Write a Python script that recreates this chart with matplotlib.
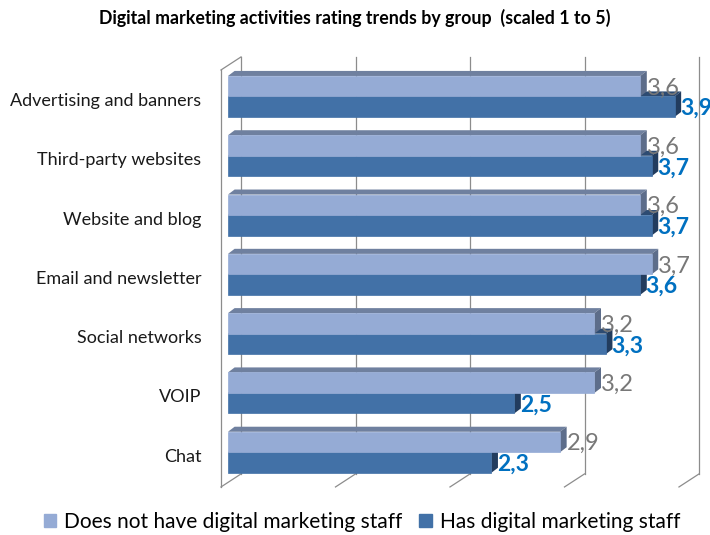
"""
Digital marketing activities rating trends by group, drawn as a pseudo-3D bar chart.
"""

import matplotlib
matplotlib.use('Agg')
import matplotlib.pyplot as plt
from matplotlib.patches import Patch

categories = ["Advertising and banners", "Third-party websites", "Website and blog",
              "Email and newsletter", "Social networks", "VOIP", "Chat"]
no_staff = [3.6, 3.6, 3.6, 3.7, 3.2, 3.2, 2.9]
has_staff = [3.9, 3.7, 3.7, 3.6, 3.3, 2.5, 2.3]
series_names = ["Does not have digital marketing staff", "Has digital marketing staff"]
grid_values = [0, 1, 2, 3, 4]

plt.rcParams['font.family'] = ['Lato', 'DejaVu Sans']

# colours: front, top, side
light = ('#95abd5', '#6f809f', '#5d6d8a')
dark = ('#4271a7', '#2d4b72', '#223c5e')

fig = plt.figure(figsize=(7.1, 5.35), dpi=100)
ax = fig.add_axes([0, 0, 1, 1])
# axes span the whole figure; x in rating units, y in category slots
ax.set_xlim(-1.93, 4.271)
ax.set_ylim(7.395, -1.627)
ax.axis('off')

x0 = 0.061           # front left edge of bars
bar_h = 0.346        # height of one bar
dx, dy = 0.058, -0.085   # bar depth
wx, wy = 0.175, -0.22    # wall / floor depth
top, floor = -0.447, 6.585
grid_col = '#8c8c8c'

# left wall outline
ax.plot([0, 0], [top, floor], color=grid_col, lw=0.9, zorder=1)
ax.plot([0, wx], [top, top + wy], color=grid_col, lw=0.9, zorder=1)
# back wall gridlines and floor ticks
for g in grid_values:
    ax.plot([g + wx, g + wx], [top + wy, floor + wy], color=grid_col, lw=0.9, zorder=1)
    ax.plot([g, g + wx], [floor, floor + wy], color=grid_col, lw=0.9, zorder=1)


def bar3d(yc, v, cols, z):
    yt, yb = yc - bar_h / 2, yc + bar_h / 2
    xe = x0 + v
    ax.barh(yc, v, left=x0, height=bar_h, color=cols[0], edgecolor=cols[0],
            lw=0.5, zorder=z + 0.2)
    ax.fill([x0, xe, xe + dx, x0 + dx], [yt, yt, yt + dy, yt + dy],
            color=cols[1], lw=0, zorder=z)
    ax.fill([xe, xe, xe + dx, xe + dx], [yt, yb, yb + dy, yt + dy],
            color=cols[2], lw=0, zorder=z + 0.1)


for i, cat in enumerate(categories):
    v_no, v_has = no_staff[i], has_staff[i]
    bar3d(i + bar_h / 2, v_has, dark, 2)
    bar3d(i - bar_h / 2, v_no, light, 3)
    ax.text(x0 + v_no + dx, i - bar_h / 2 + 0.03, f"{v_no:.1f}".replace('.', ','),
            ha='left', va='center', fontsize=17, color='#787878', zorder=5)
    ax.text(x0 + v_has + dx - 0.01, i + bar_h / 2 + 0.03, f"{v_has:.1f}".replace('.', ','),
            ha='left', va='center', fontsize=16.5, color='#0070c0', fontweight='bold', zorder=5)
    ax.text(-0.17, i + 0.075, cat, ha='right', va='center', fontsize=13, color='#1a1a1a')

fig.text(0.5, 1 - 18 / 535, "Digital marketing activities rating trends by group  (scaled 1 to 5)",
         ha='center', va='center', fontsize=12.8, fontweight='bold')

handles = [Patch(color=light[0]), Patch(color=dark[0])]
fig.legend(handles, series_names, loc='center', bbox_to_anchor=(0.51, 1 - 522 / 535), ncol=2,
           frameon=False, fontsize=15, handlelength=0.6, handleheight=0.6,
           handletextpad=0.4, columnspacing=0.8)

fig.savefig('out.png', dpi=100)
